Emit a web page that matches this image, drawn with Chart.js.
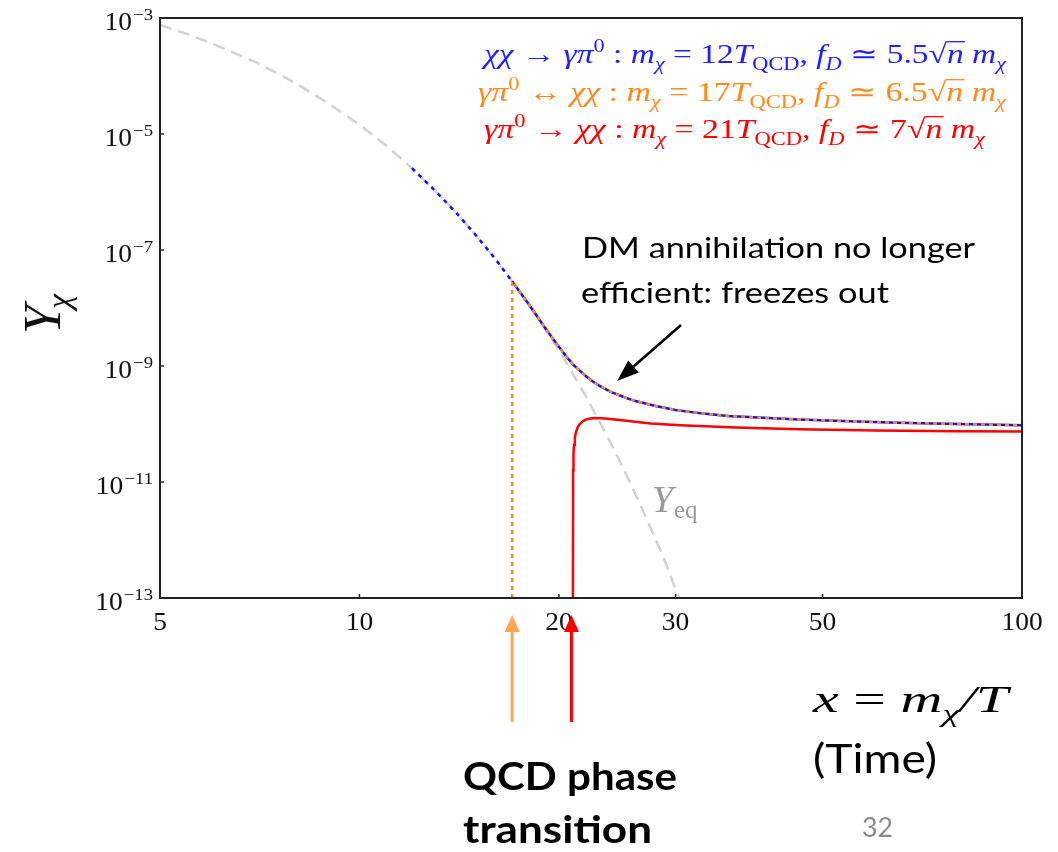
<!DOCTYPE html>
<html><head><meta charset="utf-8">
<script src="https://cdn.jsdelivr.net/npm/chart.js@4.4.0/dist/chart.umd.min.js"></script>
<style>html,body{margin:0;padding:0;background:#fff;}#wrap{width:1058px;height:852px;position:relative;}</style>
</head><body><div id="wrap"><canvas id="c" width="1058" height="852"></canvas></div>
<script>
// ---- data ----
const xTicks = [5, 10, 20, 30, 50, 100];
const yTickExponents = [-3, -5, -7, -9, -11, -13];

// equilibrium abundance Y_eq (grey dashed)
const xEq = [5, 5.5, 6, 7, 8, 9, 10, 11, 12, 13, 14, 15, 16, 17, 18, 19, 20, 21, 22, 23, 24, 25, 26, 27, 28, 29, 30, 30.5];
const yEq = [7.6e-4, 5.27e-4, 3.6e-4, 1.7e-4, 7.6e-5, 3.3e-5, 1.45e-5, 6.2e-6, 2.57e-6, 1.06e-6, 4.37e-7, 1.78e-7, 7.24e-8, 2.88e-8, 1.17e-8, 4.7e-9, 1.86e-9, 7.3e-10, 2.9e-10, 1.13e-10, 4.47e-11, 1.74e-11, 6.8e-12, 2.6e-12, 1.02e-12, 4.0e-13, 1.4e-13, 9.0e-14];

// chi chi -> gamma pi0 , m = 12 T_QCD (blue)
const xBlue = [12, 13, 14, 15, 16, 17, 18, 19, 19.5, 20, 20.5, 21, 21.5, 22, 22.5, 23, 24, 25, 26, 28, 30, 33, 36, 40, 46, 55, 65, 80, 100];
const yBlue = [2.57e-6, 1.06e-6, 4.37e-7, 1.78e-7, 7.24e-8, 2.88e-8, 1.17e-8, 4.79e-9, 3.16e-9, 2.14e-9, 1.48e-9, 1.07e-9, 8.3e-10, 6.6e-10, 5.4e-10, 4.6e-10, 3.55e-10, 2.95e-10, 2.51e-10, 2.04e-10, 1.74e-10, 1.51e-10, 1.38e-10, 1.29e-10, 1.20e-10, 1.12e-10, 1.05e-10, 1.0e-10, 9.5e-11];

// gamma pi0 <-> chi chi , m = 17 T_QCD (orange dotted)
const xOrange = [17, 17, 18, 19, 19.5, 20, 20.5, 21, 21.5, 22, 22.5, 23, 24, 25, 26, 28, 30, 33, 36, 40, 46, 55, 65, 80, 100];
const yOrange = [1.0e-13, 2.88e-8, 1.17e-8, 4.79e-9, 3.16e-9, 2.14e-9, 1.48e-9, 1.07e-9, 8.3e-10, 6.6e-10, 5.4e-10, 4.6e-10, 3.55e-10, 2.95e-10, 2.51e-10, 2.04e-10, 1.74e-10, 1.51e-10, 1.38e-10, 1.29e-10, 1.20e-10, 1.12e-10, 1.05e-10, 1.0e-10, 9.5e-11];

// gamma pi0 -> chi chi , m = 21 T_QCD (red)
const xRed = [21.0, 21.01, 21.04, 21.08, 21.14, 21.22, 21.35, 21.5, 21.75, 22.0, 22.3, 22.7, 23.5, 24.7, 27.5, 30.5, 37, 46, 60, 80, 100];
const yRed = [1.0e-13, 1.6e-11, 3.0e-11, 4.4e-11, 5.9e-11, 7.2e-11, 8.8e-11, 1.0e-10, 1.12e-10, 1.2e-10, 1.25e-10, 1.27e-10, 1.245e-10, 1.17e-10, 1.02e-10, 9.5e-11, 8.7e-11, 8.1e-11, 7.7e-11, 7.5e-11, 7.4e-11];

const legendLines = [
  { color: '#2020ff', segs: [['χχ','i'],[' → ','r'],['γπ','i'],['0','rsup'],[' : ','r'],['m','i'],['χ','isub'],[' = 12','r'],['T','i'],['QCD','rsub'],[', ','r'],['f','i'],['D','isub'],[' ≃ 5.5','r'],['√','r'],['n','io'],[' m','i'],['χ','isub']] },
  { color: '#ff8a1c', segs: [['γπ','i'],['0','rsup'],[' ↔ ','r'],['χχ','i'],[' : ','r'],['m','i'],['χ','isub'],[' = 17','r'],['T','i'],['QCD','rsub'],[', ','r'],['f','i'],['D','isub'],[' ≃ 6.5','r'],['√','r'],['n','io'],[' m','i'],['χ','isub']] },
  { color: '#ff0000', segs: [['γπ','i'],['0','rsup'],[' → ','r'],['χχ','i'],[' : ','r'],['m','i'],['χ','isub'],[' = 21','r'],['T','i'],['QCD','rsub'],[', ','r'],['f','i'],['D','isub'],[' ≃ 7','r'],['√','r'],['n','io'],[' m','i'],['χ','isub']] }
];

const pts = (xs, ys) => xs.map((x, i) => ({ x: x, y: ys[i] }));

// pick an installed Times-like serif (fallback detection via measured width)
function pickFont(cands, fallbackGeneric) {
  const c = document.createElement('canvas').getContext('2d');
  const test = 'QCD 0123456789 mnTY abcdefg';
  c.font = '40px monospace';
  const wm = c.measureText(test).width;
  for (const f of cands) {
    c.font = '40px ' + f + ', monospace';
    if (Math.abs(c.measureText(test).width - wm) > 0.5) return f + ', ' + fallbackGeneric;
  }
  return fallbackGeneric;
}
const SERIF = pickFont(['"Liberation Serif"', '"Times New Roman"', 'Tinos', 'Times', '"Nimbus Roman"'], 'serif');
const SANS = pickFont(['Lato', 'Carlito', '"Open Sans"'], 'sans-serif');

function drawRich(ctx, segs, left, right, base, color, size) {
  const parts = segs.map(([t, k]) => {
    const italic = k.indexOf('i') === 0;
    const small = k.indexOf('sub') >= 0 || k.indexOf('sup') >= 0;
    const fs = small ? Math.round(size * 0.68) : size;
    const font = (italic ? 'italic ' : '') + fs + 'px ' + SERIF;
    ctx.font = font;
    const w = ctx.measureText(t).width;
    const dy = k.indexOf('sub') >= 0 ? size * 0.25 : (k.indexOf('sup') >= 0 ? -size * 0.42 : 0);
    return { t, font, w, dy, over: k === 'io' };
  });
  const total = parts.reduce((s, p) => s + p.w, 0);
  const sx = (right - left) / total;
  ctx.save();
  ctx.translate(left, base);
  ctx.scale(sx, 1);
  ctx.fillStyle = color; ctx.strokeStyle = color;
  ctx.textAlign = 'left'; ctx.textBaseline = 'alphabetic';
  let x = 0, sqrtTop = -size * 0.8;
  for (const p of parts) {
    ctx.font = p.font;
    if (p.t === '√') { const m = ctx.measureText('√'); sqrtTop = -m.actualBoundingBoxAscent; }
    ctx.fillText(p.t, x, p.dy);
    if (p.over) {
      ctx.lineWidth = 1.3;
      ctx.beginPath(); ctx.moveTo(x - 0.5, sqrtTop + 0.7); ctx.lineTo(x + p.w + 1, sqrtTop + 0.7); ctx.stroke();
    }
    x += p.w;
  }
  ctx.restore();
}

function fitText(ctx, text, left, right, base, font, color) {
  ctx.save();
  ctx.font = font;
  const w = ctx.measureText(text).width;
  ctx.translate(left, base);
  ctx.scale((right - left) / w, 1);
  ctx.fillStyle = color; ctx.textAlign = 'left'; ctx.textBaseline = 'alphabetic';
  ctx.fillText(text, 0, 0);
  ctx.restore();
}

function arrow(ctx, x1, y1, x2, y2, color, lw, headLen, headW) {
  const a = Math.atan2(y2 - y1, x2 - x1);
  const bx = x2 - headLen * Math.cos(a), by = y2 - headLen * Math.sin(a);
  ctx.save();
  ctx.strokeStyle = color; ctx.fillStyle = color; ctx.lineWidth = lw;
  ctx.beginPath(); ctx.moveTo(x1, y1); ctx.lineTo(bx, by); ctx.stroke();
  ctx.beginPath();
  ctx.moveTo(x2, y2);
  ctx.lineTo(bx + headW / 2 * Math.sin(a), by - headW / 2 * Math.cos(a));
  ctx.lineTo(bx - headW / 2 * Math.sin(a), by + headW / 2 * Math.cos(a));
  ctx.closePath(); ctx.fill();
  ctx.restore();
}

const bgPlugin = {
  id: 'bg',
  beforeDraw(chart) {
    const ctx = chart.ctx; ctx.save(); ctx.fillStyle = '#fff'; ctx.fillRect(0, 0, chart.width, chart.height); ctx.restore();
  }
};

const decoPlugin = {
  id: 'deco',
  afterDraw(chart) {
    const ctx = chart.ctx, a = chart.chartArea;
    const xs = chart.scales.x, ys = chart.scales.y;
    ctx.save();
    // frame
    ctx.strokeStyle = '#222'; ctx.lineWidth = 2;
    ctx.strokeRect(a.left, a.top, a.right - a.left, a.bottom - a.top);
    // ticks
    ctx.lineWidth = 1.5;
    xTicks.forEach(v => {
      const px = xs.getPixelForValue(v);
      ctx.beginPath(); ctx.moveTo(px, a.bottom); ctx.lineTo(px, a.bottom - 4); ctx.stroke();
    });
    yTickExponents.forEach(e => {
      const py = ys.getPixelForValue(Math.pow(10, e));
      ctx.beginPath(); ctx.moveTo(a.left, py); ctx.lineTo(a.left + 4, py); ctx.stroke();
    });
    // x tick labels
    const sxT = 1.1;
    ctx.fillStyle = '#111'; ctx.textBaseline = 'alphabetic';
    xTicks.forEach(v => {
      const px = xs.getPixelForValue(v);
      ctx.save(); ctx.font = '25px ' + SERIF;
      const w = ctx.measureText(String(v)).width * sxT;
      ctx.translate(px - w / 2, a.bottom + 32); ctx.scale(sxT, 1);
      ctx.fillText(String(v), 0, 0); ctx.restore();
    });
    // y tick labels 10^e
    yTickExponents.forEach(e => {
      const py = ys.getPixelForValue(Math.pow(10, e));
      ctx.save();
      ctx.font = '25px ' + SERIF; const w1 = ctx.measureText('10').width;
      const es = '−' + Math.abs(e);
      ctx.font = '17px ' + SERIF; const w2 = ctx.measureText(es).width;
      const right = a.left - 7;
      const total = (w1 + w2 + 1) * sxT;
      ctx.translate(right - total, py); ctx.scale(sxT, 1);
      ctx.font = '25px ' + SERIF; ctx.fillText('10', 0, 12);
      ctx.font = '17px ' + SERIF; ctx.fillText(es, w1 + 1, 2);
      ctx.restore();
    });
    // y-axis label Y_chi (rotated)
    ctx.save();
    ctx.translate(60, 334); ctx.rotate(-Math.PI / 2);
    ctx.fillStyle = '#111';
    ctx.font = 'italic 52px ' + SERIF; ctx.fillText('Y', 0, 0);
    const wy = ctx.measureText('Y').width;
    ctx.font = 'italic 34px ' + SERIF; ctx.fillText('χ', wy - 4, 10);
    ctx.restore();
    // legend text
    const lx = [[484, 1006, 63], [478, 1006, 101], [484, 985, 138]];
    legendLines.forEach((L, i) => drawRich(ctx, L.segs, lx[i][0], lx[i][1], lx[i][2], L.color, 27));
    // Y_eq label
    ctx.fillStyle = '#9a9a9a';
    ctx.font = 'italic 38px ' + SERIF; ctx.fillText('Y', 652, 512);
    ctx.font = '25px ' + SERIF; ctx.fillText('eq', 674, 518);
    // annotation text
    fitText(ctx, 'DM annihilation no longer', 582, 975, 258, '29px ' + SANS, '#000');
    fitText(ctx, 'efficient: freezes out', 581, 889, 303, '29px ' + SANS, '#000');
    arrow(ctx, 681, 325, 617, 381, '#000', 2.5, 22, 16);
    // QCD phase transition arrows
    const p17 = xs.getPixelForValue(17), p21 = xs.getPixelForValue(21);
    arrow(ctx, p17, 722, p17, 615, '#ffa64f', 3, 17, 15);
    arrow(ctx, p21 - 1.5, 722, p21 - 1.5, 615, '#ff0000', 3, 17, 15);
    fitText(ctx, 'QCD phase', 463, 677, 790, 'bold 38px ' + SANS, '#000');
    fitText(ctx, 'transition', 463, 652, 843, 'bold 38px ' + SANS, '#000');
    // x label
    drawRich(ctx, [['x','i'],[' = ','r'],['m','i'],['χ','isub'],['/T','i']], 813, 1008, 712, '#000', 38);
    fitText(ctx, '(Time)', 813, 937, 773, '40px ' + SANS, '#000');
    fitText(ctx, '32', 862, 893, 837, '27px ' + SANS, '#8a8a8a');
    ctx.restore();
  }
};

new Chart(document.getElementById('c'), {
  type: 'line',
  data: {
    datasets: [
      { label: 'Y_eq', data: pts(xEq, yEq), borderColor: '#d2d2d2', borderWidth: 2.5, borderDash: [12, 7], pointRadius: 0, tension: 0, order: 4, clip: 0 },
      { label: 'red', data: pts(xRed, yRed), borderColor: '#ff0000', borderWidth: 2.5, pointRadius: 0, tension: 0, order: 3, clip: 0 },
      { label: 'blue', data: pts(xBlue, yBlue), borderColor: '#1010ff', borderWidth: 2.5, pointRadius: 0, tension: 0, order: 2, clip: 0,
        segment: { borderDash: c => (c.p0.parsed.x < 17 ? [4, 5] : undefined) } },
      { label: 'orange', data: pts(xOrange, yOrange), borderColor: '#ff8a1c', borderWidth: 2.5, borderDash: [4, 4], pointRadius: 0, tension: 0, order: 1, clip: 0 }
    ]
  },
  options: {
    responsive: false,
    animation: false,
    parsing: true,
    layout: { padding: { left: 160, top: 18, right: 36, bottom: 254 } },
    plugins: { legend: { display: false }, tooltip: { enabled: false } },
    scales: {
      x: { type: 'logarithmic', min: 5, max: 100, display: false },
      y: { type: 'logarithmic', min: 1e-13, max: 1e-3, display: false }
    }
  },
  plugins: [bgPlugin, decoPlugin]
});
</script></body></html>
